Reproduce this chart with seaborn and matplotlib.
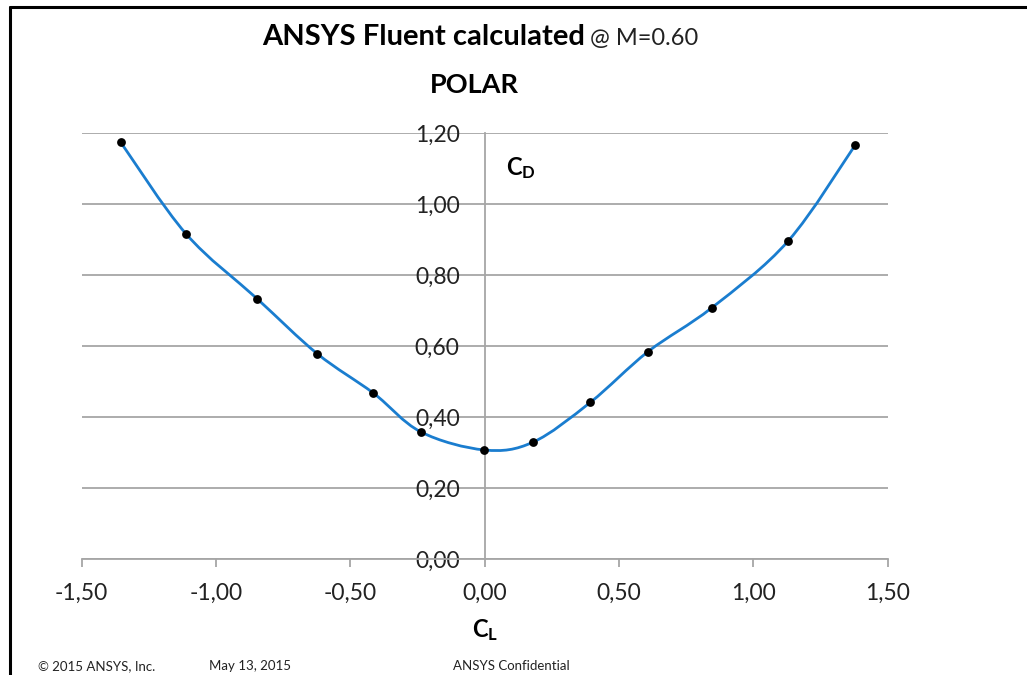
import numpy as np
import pandas as pd
import matplotlib
matplotlib.use("Agg")
import matplotlib.pyplot as plt
from matplotlib.path import Path
from matplotlib.patches import PathPatch
from matplotlib.lines import Line2D
from matplotlib.ticker import FixedLocator, FuncFormatter
import seaborn as sns

# Drag polar at M = 0.60
cl = [-1.355, -1.112, -0.847, -0.623, -0.414, -0.238, -0.001,
      0.180, 0.393, 0.608, 0.846, 1.130, 1.380]
cd = [1.175, 0.917, 0.734, 0.579, 0.468, 0.359, 0.308,
      0.330, 0.442, 0.585, 0.709, 0.897, 1.168]

x_ticks = [-1.5, -1.0, -0.5, 0.0, 0.5, 1.0, 1.5]
y_ticks = [0.0, 0.2, 0.4, 0.6, 0.8, 1.0, 1.2]

df = pd.DataFrame({"CL": cl, "CD": cd})

sns.set_theme(style="white")
plt.rcParams["font.family"] = ["Lato", "DejaVu Sans"]
plt.rcParams["mathtext.fontset"] = "custom"
plt.rcParams["mathtext.rm"] = "Lato"
plt.rcParams["mathtext.bf"] = "Lato:bold"

LINE = "#1a7dcf"
GRID = "#a6a6a6"

fig = plt.figure(figsize=(10.27, 6.75), dpi=100)
fig.patch.set_facecolor("white")
ax = fig.add_axes([81.7 / 1027, (675 - 559.3) / 675, 806 / 1027, 426 / 675])
ax.set_facecolor("white")

# Smoothed curve through the points (Catmull-Rom as cubic Bezier segments)
pts = df[["CL", "CD"]].to_numpy()
verts = [tuple(pts[0])]
codes = [Path.MOVETO]
n = len(pts)
for i in range(n - 1):
    p0 = pts[max(i - 1, 0)]
    p1 = pts[i]
    p2 = pts[i + 1]
    p3 = pts[min(i + 2, n - 1)]
    c1 = p1 + (p2 - p0) / 6.0
    c2 = p2 - (p3 - p1) / 6.0
    verts += [tuple(c1), tuple(c2), tuple(p2)]
    codes += [Path.CURVE4] * 3
ax.add_patch(PathPatch(Path(verts, codes), fill=False, edgecolor=LINE,
                       linewidth=2.0, capstyle="round", joinstyle="round",
                       zorder=3))

sns.scatterplot(data=df, x="CL", y="CD", ax=ax, color="black", s=40,
                edgecolor="black", linewidth=0, zorder=4)

ax.set_xlim(-1.5, 1.5)
ax.set_ylim(0.0, 1.2)

# Horizontal gridlines only
ax.yaxis.set_major_locator(FixedLocator(y_ticks))
ax.xaxis.set_major_locator(FixedLocator(x_ticks))
ax.grid(axis="y", color=GRID, linewidth=1.3)
ax.grid(axis="x", visible=False)

fmt = FuncFormatter(lambda v, _: f"{v:.2f}".replace(".", ","))
ax.xaxis.set_major_formatter(fmt)
ax.yaxis.set_major_formatter(fmt)

for s in ["top", "right"]:
    ax.spines[s].set_visible(False)
ax.spines["left"].set_position(("data", 0.0))
ax.spines["left"].set_color(GRID)
ax.spines["left"].set_linewidth(1.3)
ax.spines["bottom"].set_color(GRID)
ax.spines["bottom"].set_linewidth(1.3)

ax.tick_params(axis="x", direction="out", length=6, width=1.3, color=GRID,
               labelsize=16.5, labelcolor="#222222", pad=11, bottom=True)
ax.tick_params(axis="y", length=0, labelsize=16.5, labelcolor="#222222", pad=18)
ax.set_xlabel("")
ax.set_ylabel("")

# Axis names
fig.text(485 / 1027, 1 - 630 / 675, r"$\mathbf{C_L}$", ha="center",
         va="center", fontsize=17, color="black")
fig.text(506 / 1027, 1 - 168 / 675, r"$\mathbf{C_D}$", ha="left",
         va="center", fontsize=17, color="black")

# Titles
fig.text(262 / 1027, 1 - 45 / 675, "ANSYS Fluent calculated", ha="left",
         va="baseline", fontsize=21, fontweight="bold", color="black")
fig.text(590 / 1027, 1 - 45 / 675, "@ M=0.60", ha="left", va="baseline",
         fontsize=17, color="#222222")
fig.text(474 / 1027, 1 - 93 / 675, "POLAR", ha="center", va="baseline",
         fontsize=19.5, fontweight="bold", color="black")

# Footer
for xp, txt in [(38, "© 2015 ANSYS, Inc."), (209, "May 13, 2015"),
                (453, "ANSYS Confidential")]:
    fig.text(xp / 1027, 1 - 666 / 675, txt, ha="left", va="center",
             fontsize=9.5, color="#222222")

# Slide frame
fig.add_artist(Line2D([9.5 / 1027, 1.0], [1 - 7 / 675, 1 - 7 / 675],
                      transform=fig.transFigure, color="black", linewidth=2.2))
fig.add_artist(Line2D([10 / 1027, 10 / 1027], [1 - 7 / 675, 0.0],
                      transform=fig.transFigure, color="black", linewidth=2.2))

fig.savefig("out.png", dpi=100, facecolor="white")
